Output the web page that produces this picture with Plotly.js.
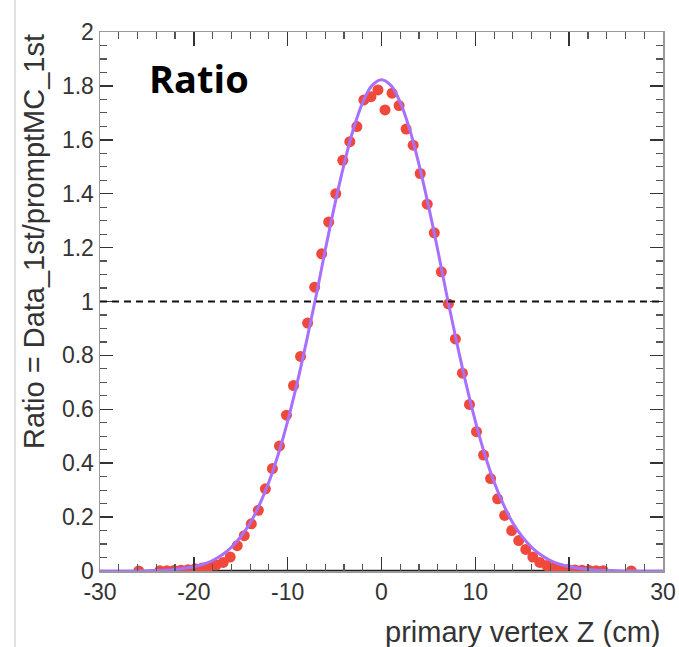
<!DOCTYPE html>
<html>
<head>
<meta charset="utf-8">
<script src="https://cdn.plot.ly/plotly-3.0.1.min.js"></script>
<style>html,body{margin:0;padding:0;background:#fff;}#chart{width:679px;height:647px;}</style>
</head>
<body>
<div id="chart"></div>
<script>
// Data points (bin centres, ratio values)
var binZ = [-25.875, -23.625, -22.875, -22.125, -21.375, -20.625, -19.875, -19.125, -18.375, -17.625, -16.875, -16.125,
  -15.375, -14.625, -13.875, -13.125, -12.375, -11.625, -10.875, -10.125, -9.375, -8.625, -7.875, -7.125,
  -6.375, -5.625, -4.875, -4.125, -3.375, -2.625, -1.875, -1.125, -0.375, 0.375, 1.125, 1.875,
  2.625, 3.375, 4.125, 4.875, 5.625, 6.375, 7.125, 7.875, 8.625, 9.375, 10.125, 10.875,
  11.625, 12.375, 13.125, 13.875, 14.625, 15.375, 16.125, 16.875, 17.625, 18.375, 19.125, 19.875,
  20.625, 21.375, 22.125, 22.875, 23.625, 26.625];
var ratio = [0.0, 0.001, 0.001, 0.002, 0.003, 0.005, 0.008, 0.011, 0.015, 0.022, 0.032, 0.052,
  0.094, 0.131, 0.175, 0.225, 0.305, 0.380, 0.464, 0.578, 0.688, 0.796, 0.920, 1.053,
  1.177, 1.295, 1.400, 1.524, 1.593, 1.649, 1.748, 1.760, 1.785, 1.711, 1.773, 1.727,
  1.640, 1.580, 1.475, 1.361, 1.255, 1.110, 0.991, 0.861, 0.734, 0.618, 0.517, 0.430,
  0.343, 0.268, 0.206, 0.150, 0.113, 0.080, 0.052, 0.032, 0.020, 0.013, 0.008, 0.006,
  0.004, 0.003, 0.002, 0.001, 0.001, 0.0];

// Fit curve samples
var fitZ = [-30, -29, -28, -27, -26, -25, -24, -23, -22, -21, -20, -19, -18, -17, -16, -15, -14, -13, -12, -11, -10,
  -9, -8, -7, -6, -5, -4, -3, -2, -1, 0, 1, 2, 3, 4, 5, 6, 7, 8, 9, 10,
  11, 12, 13, 14, 15, 16, 17, 18, 19, 20, 21, 22, 23, 24, 25, 26, 27, 28, 29, 30];
var fitRatio = [0, 0, 0, 0, 0, 0.001, 0.002, 0.003, 0.006, 0.010, 0.016, 0.025, 0.039, 0.059, 0.088, 0.127, 0.178, 0.246, 0.330, 0.433, 0.556,
  0.696, 0.851, 1.016, 1.190, 1.356, 1.508, 1.639, 1.739, 1.802, 1.823, 1.802, 1.739, 1.639, 1.508, 1.356, 1.190, 1.016, 0.851, 0.696, 0.556,
  0.433, 0.330, 0.246, 0.178, 0.127, 0.088, 0.059, 0.039, 0.025, 0.016, 0.010, 0.006, 0.003, 0.002, 0.001, 0, 0, 0, 0, 0];

// Dark baseline segment at zero
var baseZ = [-21.7, 21.5];
var baseRatio = [0, 0];

var xTickVals = [-30, -20, -10, 0, 10, 20, 30];
var xTickText = ['-30', '-20', '-10', '0', '10', '20', '30'];

var tickFont = {family: 'Liberation Sans, Arial, sans-serif', size: 23, color: '#333'};

var traces = [
  {x: baseZ, y: baseRatio, mode: 'lines', line: {color: '#222', width: 2.5}, hoverinfo: 'skip', showlegend: false},
  {x: binZ, y: ratio, mode: 'markers', marker: {color: 'rgb(240,72,58)', size: 11}, showlegend: false},
  {x: fitZ, y: fitRatio, mode: 'lines', line: {color: 'rgb(168,112,255)', width: 3, shape: 'spline'}, showlegend: false}
];

var layout = {
  width: 679, height: 647,
  margin: {l: 100, r: 16, t: 32, b: 76},
  paper_bgcolor: '#fff', plot_bgcolor: '#fff',
  showlegend: false,
  xaxis: {
    range: [-30, 30], tickmode: 'array', tickvals: xTickVals, ticktext: xTickText,
    ticks: 'inside', ticklen: 14, tickwidth: 1.5, tickcolor: '#333',
    showline: true, linecolor: '#999', linewidth: 1.5, mirror: 'ticks',
    showgrid: false, zeroline: false, tickfont: tickFont,
    minor: {dtick: 2, tick0: 0, ticks: 'inside', ticklen: 7, tickwidth: 1.2, tickcolor: '#555', showgrid: false}
  },
  yaxis: {
    range: [0, 2], dtick: 0.2, tick0: 0,
    ticks: 'inside', ticklen: 13, tickwidth: 1.5, tickcolor: '#333',
    showline: true, linecolor: '#999', linewidth: 1.5, mirror: 'ticks',
    showgrid: false, zeroline: false, tickfont: tickFont,
    minor: {dtick: 0.05, tick0: 0, ticks: 'inside', ticklen: 7, tickwidth: 1.2, tickcolor: '#555', showgrid: false}
  },
  shapes: [
    {type: 'line', xref: 'x', yref: 'y', x0: -30, x1: 30, y0: 1, y1: 1, line: {color: '#111', width: 1.8, dash: '7px,5px'}},
    {type: 'line', xref: 'paper', yref: 'paper', x0: -0.151, x1: -0.151, y0: -0.15, y1: 1.07, line: {color: '#e2e2e2', width: 2}}
  ],
  annotations: [
    {text: '<b>Ratio</b>', xref: 'paper', yref: 'paper', x: 0.083, y: 0.915, xanchor: 'left', yanchor: 'middle', showarrow: false,
     font: {family: 'Open Sans, DejaVu Sans, sans-serif', size: 38, color: '#000'}},
    {text: 'Ratio = Data_1st/promptMC_1st', xref: 'paper', yref: 'paper', x: -0.118, y: 1.0, xanchor: 'center', yanchor: 'top',
     textangle: -90, showarrow: false, font: {family: 'Liberation Sans, Arial, sans-serif', size: 29, color: '#333'}},
    {text: 'primary vertex Z (cm)', xref: 'paper', yref: 'paper', x: 1.0, y: -0.113, xanchor: 'right', yanchor: 'middle',
     showarrow: false, font: {family: 'Liberation Sans, Arial, sans-serif', size: 29, color: '#333'}}
  ]
};

Plotly.newPlot('chart', traces, layout, {displayModeBar: false, staticPlot: true});
</script>
</body>
</html>
